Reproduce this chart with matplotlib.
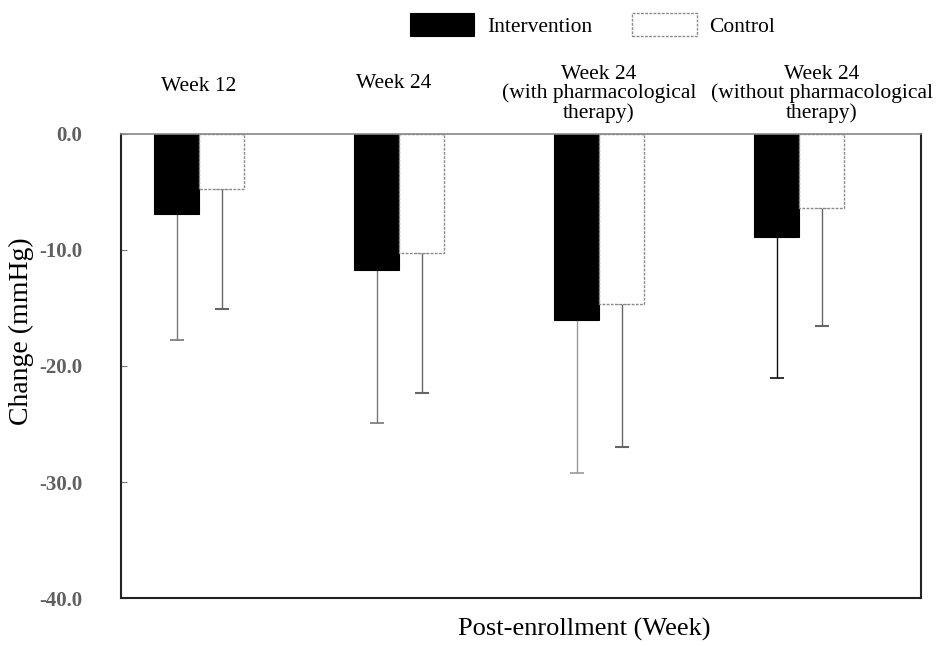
import matplotlib
matplotlib.use("Agg")
import matplotlib.pyplot as plt
import numpy as np

# data ###################
groups = ["Week 12", "Week 24",
          "Week 24\n(with pharmacological\ntherapy)",
          "Week 24\n(without pharmacological\ntherapy)"]
intervention = [-6.9, -11.7, -16.0, -8.9]
control = [-4.8, -10.3, -14.7, -6.4]
intervention_sd = [10.9, 13.2, 13.2, 12.1]
control_sd = [10.3, 12.0, 12.3, 10.2]
yticks = [0, -10, -20, -30, -40]
##########################

plt.rcParams.update({
    "font.family": ["Liberation Serif", "DejaVu Serif"],
    "font.size": 12,
})

fig = plt.figure(figsize=(9.38, 6.46), dpi=100)
ax = fig.add_axes([0.129, 0.074, 0.853, 0.719])

x = np.arange(len(groups))
w = 0.225

# bars
ax.bar(x - w/2, intervention, w, color='black', edgecolor='black',
       linewidth=0.8, label='Intervention', zorder=2)
ax.bar(x + w/2, control, w, color='white', edgecolor='#8a8a8a',
       linewidth=1.0, linestyle=(0, (2, 1)), label='Control', zorder=2)

# error bars (downward only)
ecol_int = ['#777777', '#777777', '#999999', '#111111']
for i in range(len(groups)):
    ax.errorbar(x[i] - w/2, intervention[i],
                yerr=[[intervention_sd[i]], [0]],
                fmt='none', ecolor=ecol_int[i], elinewidth=1.0,
                capsize=5, capthick=1.2, zorder=1)
    ax.errorbar(x[i] + w/2, control[i],
                yerr=[[control_sd[i]], [0]],
                fmt='none', ecolor='#666666', elinewidth=1.0,
                capsize=5, capthick=1.5, zorder=1)

# axes limits and ticks
ax.set_xlim(-0.39, 3.61)
ax.set_ylim(-40, 0)
ax.set_xticks([])
ax.set_yticks(yticks)
ax.set_yticklabels(["%.1f" % v for v in yticks], color='#606060',
                   fontweight='bold', fontsize=15)
ax.tick_params(axis='y', direction='in', length=4, pad=28, color='#777777')
for s in ax.spines.values():
    s.set_linewidth(1.5)
    s.set_color('#222222')
ax.spines['top'].set_color('#888888')
ax.spines['top'].set_linewidth(1.2)

# group labels above the plot
lab_dx = [0.0, -0.025, 0.0, 0.115]
lab_y = [1.101, 1.108, 1.086, 1.086]
for i, g in enumerate(groups):
    ax.text(x[i] + lab_dx[i], lab_y[i], g, ha='center', va='center',
            transform=ax.get_xaxis_transform(), fontsize=15.5,
            linespacing=1.0)

# axis labels
ax.set_xlabel("Post-enrollment (Week)", fontsize=19)
ax.xaxis.set_label_coords(0.579, -0.067)
ax.get_xaxis().label.set_va('center')
ax.set_ylabel("Change (mmHg)", fontsize=20)
ax.yaxis.set_label_coords(-0.125, 0.575)
ax.get_yaxis().label.set_va('center')

# legend
fig.legend(loc='upper left', bbox_to_anchor=(0.416, 1.01), ncol=2,
           frameon=False, handlelength=3.0, handleheight=1.25,
           columnspacing=1.85, handletextpad=0.6, fontsize=15.5)

fig.savefig("out.png", dpi=100)
